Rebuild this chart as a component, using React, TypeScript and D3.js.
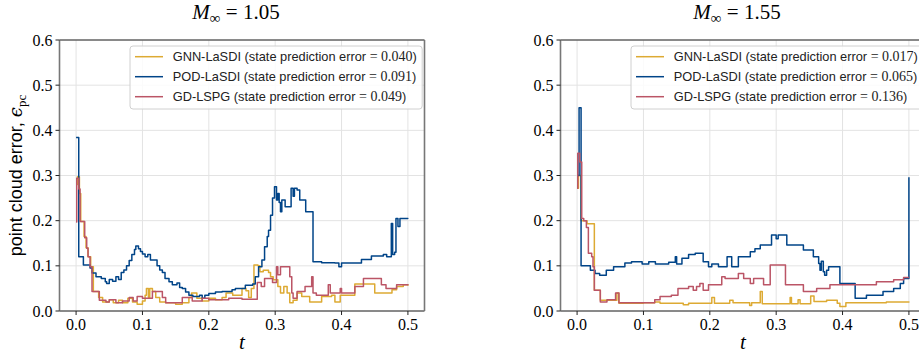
import React, { useEffect, useRef } from "react";
import * as d3 from "d3";

// axis ticks
const timeTicks = [0, 0.1, 0.2, 0.3, 0.4, 0.5];
const errorTicks = [0, 0.1, 0.2, 0.3, 0.4, 0.5, 0.6];

const machNumbers = ["1.05", "1.55"];
const methods = ["GNN-LaSDI", "POD-LaSDI", "GD-LSPG"];
const stateErrorsLow = ["0.040", "0.091", "0.049"];
const stateErrorsHigh = ["0.017", "0.065", "0.136"];
const colors = ["#DDAA33", "#004488", "#BB5566"];

// [t, error] pairs (step curves)
const gnnLow = [
  [0, 0.28], [0.002, 0.297], [0.005, 0.26], [0.007, 0.198], [0.012, 0.165], [0.015, 0.14],
  [0.018, 0.12], [0.022, 0.098], [0.026, 0.043], [0.034, 0.03], [0.04, 0.02], [0.05, 0.025],
  [0.056, 0.018], [0.064, 0.024], [0.07, 0.018], [0.078, 0.028], [0.085, 0.02], [0.092, 0.015],
  [0.1, 0.022], [0.104, 0.035], [0.106, 0.05], [0.109, 0.03], [0.111, 0.05], [0.115, 0.043],
  [0.12, 0.03], [0.126, 0.02], [0.135, 0.018], [0.15, 0.015], [0.16, 0.018], [0.17, 0.03],
  [0.174, 0.04], [0.182, 0.028], [0.19, 0.022], [0.2, 0.028], [0.21, 0.025], [0.22, 0.03],
  [0.226, 0.04], [0.236, 0.035], [0.25, 0.05], [0.256, 0.045], [0.26, 0.03], [0.264, 0.05],
  [0.268, 0.102], [0.274, 0.1], [0.277, 0.087], [0.282, 0.09], [0.29, 0.085], [0.293, 0.076],
  [0.297, 0.069], [0.304, 0.054], [0.308, 0.04], [0.313, 0.054], [0.318, 0.04], [0.322, 0.018],
  [0.327, 0.024], [0.333, 0.04], [0.34, 0.032], [0.352, 0.02], [0.37, 0.032], [0.385, 0.035],
  [0.39, 0.02], [0.398, 0.035], [0.42, 0.06], [0.45, 0.04], [0.476, 0.047], [0.483, 0.054],
  [0.493, 0.058], [0.5, 0.056],
];
const podLow = [
  [0, 0.384], [0.004, 0.12], [0.011, 0.102], [0.021, 0.095], [0.024, 0.084], [0.03, 0.076],
  [0.038, 0.072], [0.044, 0.065], [0.046, 0.061], [0.05, 0.07], [0.055, 0.066], [0.06, 0.076],
  [0.064, 0.07], [0.068, 0.085], [0.072, 0.091], [0.076, 0.1], [0.08, 0.112], [0.084, 0.125],
  [0.088, 0.136], [0.09, 0.144], [0.094, 0.138], [0.097, 0.132], [0.1, 0.126], [0.104, 0.12],
  [0.108, 0.125], [0.112, 0.113], [0.118, 0.113], [0.122, 0.1], [0.126, 0.091], [0.13, 0.085],
  [0.134, 0.072], [0.14, 0.065], [0.145, 0.058], [0.152, 0.062], [0.156, 0.052], [0.16, 0.05],
  [0.165, 0.042], [0.17, 0.035], [0.176, 0.032], [0.186, 0.035], [0.19, 0.028], [0.194, 0.035],
  [0.2, 0.039], [0.21, 0.042], [0.22, 0.043], [0.235, 0.047], [0.24, 0.05], [0.255, 0.057],
  [0.266, 0.06], [0.27, 0.076], [0.275, 0.098], [0.28, 0.113], [0.284, 0.142], [0.288, 0.165],
  [0.29, 0.179], [0.293, 0.212], [0.296, 0.25], [0.299, 0.275], [0.302, 0.246], [0.304, 0.26],
  [0.306, 0.24], [0.308, 0.22], [0.31, 0.246], [0.315, 0.231], [0.322, 0.231], [0.324, 0.272],
  [0.327, 0.254], [0.329, 0.272], [0.333, 0.268], [0.337, 0.246], [0.346, 0.22], [0.357, 0.109],
  [0.37, 0.107], [0.39, 0.106], [0.396, 0.098], [0.4, 0.106], [0.43, 0.114], [0.445, 0.122],
  [0.463, 0.125], [0.468, 0.12], [0.475, 0.194], [0.477, 0.125], [0.48, 0.13], [0.482, 0.205],
  [0.485, 0.187], [0.488, 0.205], [0.5, 0.204],
];
const lspgLow = [
  [0, 0.197], [0.001, 0.294], [0.004, 0.27], [0.006, 0.198], [0.013, 0.162], [0.016, 0.139],
  [0.018, 0.12], [0.021, 0.098], [0.024, 0.043], [0.035, 0.024], [0.045, 0.02], [0.05, 0.025],
  [0.06, 0.018], [0.07, 0.022], [0.08, 0.03], [0.086, 0.022], [0.092, 0.032], [0.1, 0.028],
  [0.115, 0.043], [0.13, 0.03], [0.135, 0.018], [0.16, 0.03], [0.175, 0.022], [0.19, 0.028],
  [0.2, 0.025], [0.23, 0.028], [0.25, 0.026], [0.273, 0.063], [0.279, 0.054], [0.284, 0.072],
  [0.296, 0.063], [0.302, 0.098], [0.304, 0.08], [0.308, 0.098], [0.322, 0.076], [0.325, 0.04],
  [0.327, 0.028], [0.333, 0.043], [0.345, 0.054], [0.355, 0.076], [0.357, 0.04], [0.362, 0.035],
  [0.38, 0.058], [0.383, 0.04], [0.398, 0.05], [0.4, 0.04], [0.42, 0.054], [0.433, 0.072],
  [0.46, 0.058], [0.467, 0.05], [0.483, 0.058], [0.5, 0.057],
];

const gnnHigh = [
  [0, 0.272], [0.002, 0.3], [0.006, 0.2], [0.015, 0.193], [0.026, 0.046], [0.035, 0.024],
  [0.06, 0.04], [0.063, 0.017], [0.1, 0.018], [0.117, 0.02], [0.125, 0.017], [0.16, 0.014],
  [0.168, 0.017], [0.2, 0.017], [0.203, 0.03], [0.207, 0.017], [0.23, 0.024], [0.235, 0.018],
  [0.26, 0.012], [0.263, 0.018], [0.276, 0.043], [0.279, 0.016], [0.321, 0.03], [0.323, 0.016],
  [0.333, 0.025], [0.336, 0.016], [0.352, 0.033], [0.357, 0.021], [0.376, 0.024], [0.392, 0.017],
  [0.396, 0.01], [0.405, 0.018], [0.466, 0.02], [0.5, 0.021],
];
const podHigh = [
  [0, 0.3], [0.003, 0.45], [0.006, 0.1], [0.02, 0.09], [0.027, 0.083], [0.034, 0.079],
  [0.044, 0.09], [0.055, 0.098], [0.072, 0.106], [0.082, 0.109], [0.098, 0.104], [0.108, 0.109],
  [0.118, 0.104], [0.138, 0.108], [0.148, 0.12], [0.15, 0.104], [0.158, 0.117], [0.168, 0.125],
  [0.178, 0.128], [0.19, 0.109], [0.198, 0.098], [0.203, 0.104], [0.213, 0.098], [0.226, 0.12],
  [0.233, 0.098], [0.243, 0.12], [0.261, 0.131], [0.268, 0.138], [0.276, 0.146], [0.293, 0.168],
  [0.3, 0.16], [0.303, 0.168], [0.316, 0.146], [0.341, 0.135], [0.356, 0.12], [0.364, 0.105],
  [0.366, 0.09], [0.368, 0.11], [0.371, 0.087], [0.373, 0.079], [0.376, 0.09], [0.379, 0.098],
  [0.396, 0.061], [0.419, 0.028], [0.436, 0.035], [0.461, 0.043], [0.477, 0.05], [0.487, 0.061],
  [0.492, 0.072], [0.5, 0.296],
];
const lspgHigh = [
  [0, 0.272], [0.001, 0.349], [0.004, 0.33], [0.007, 0.205], [0.01, 0.2], [0.014, 0.185],
  [0.017, 0.128], [0.022, 0.12], [0.024, 0.098], [0.026, 0.046], [0.035, 0.02], [0.045, 0.025],
  [0.058, 0.04], [0.063, 0.018], [0.117, 0.025], [0.125, 0.032], [0.142, 0.035], [0.152, 0.05],
  [0.168, 0.054], [0.175, 0.046], [0.18, 0.054], [0.185, 0.061], [0.19, 0.046], [0.198, 0.058],
  [0.218, 0.076], [0.223, 0.072], [0.243, 0.083], [0.251, 0.072], [0.261, 0.061], [0.266, 0.072],
  [0.281, 0.058], [0.291, 0.102], [0.314, 0.058], [0.341, 0.043], [0.361, 0.05], [0.381, 0.058],
  [0.451, 0.065], [0.477, 0.069], [0.492, 0.074], [0.5, 0.074],
];

const App = () => {
  const ref = useRef(null);

  useEffect(() => {
    const root = d3.select(ref.current);
    root.selectAll("*").remove();

    const panels = [
      { left: 59.5, mach: machNumbers[0], errs: stateErrorsLow, series: [gnnLow, podLow, lspgLow], ylabel: true },
      { left: 560.5, mach: machNumbers[1], errs: stateErrorsHigh, series: [gnnHigh, podHigh, lspgHigh], ylabel: false },
    ];
    const top = 40, bottom = 311, plotW = 365;
    const serif = "'Liberation Serif', 'DejaVu Serif', serif";
    const sans = "'Liberation Sans', Arial, sans-serif";

    panels.forEach((p, pi) => {
      const x = d3.scaleLinear().domain([-0.025, 0.525]).range([p.left, p.left + plotW]);
      const y = d3.scaleLinear().domain([0, 0.6]).range([bottom, top]);
      const g = root.append("g");

      // grid
      g.selectAll("line.gx").data(timeTicks).enter().append("line")
        .attr("x1", d => x(d)).attr("x2", d => x(d)).attr("y1", top).attr("y2", bottom)
        .attr("stroke", "#e3e3e3").attr("stroke-width", 1);
      g.selectAll("line.gy").data(errorTicks).enter().append("line")
        .attr("x1", p.left).attr("x2", p.left + plotW).attr("y1", d => y(d)).attr("y2", d => y(d))
        .attr("stroke", "#e3e3e3").attr("stroke-width", 1);

      // curves
      const clipId = `clip${pi}`;
      g.append("clipPath").attr("id", clipId).append("rect")
        .attr("x", p.left).attr("y", top).attr("width", plotW).attr("height", bottom - top);
      const line = d3.line().x(d => x(d[0])).y(d => y(d[1])).curve(d3.curveStepAfter);
      p.series.forEach((s, i) => {
        g.append("path").datum(s).attr("d", line)
          .attr("fill", "none").attr("stroke", colors[i]).attr("stroke-width", 1.5)
          .attr("stroke-linejoin", "round").attr("clip-path", `url(#${clipId})`);
      });

      // spines
      g.append("line").attr("x1", p.left).attr("x2", p.left + plotW).attr("y1", top).attr("y2", top)
        .attr("stroke", "#222").attr("stroke-width", 1);
      g.append("line").attr("x1", p.left).attr("x2", p.left + plotW).attr("y1", bottom).attr("y2", bottom)
        .attr("stroke", "#222").attr("stroke-width", 1);
      [p.left, p.left + plotW].forEach(sx => {
        g.append("line").attr("x1", sx).attr("x2", sx).attr("y1", top).attr("y2", bottom)
          .attr("stroke", "#777").attr("stroke-width", 1.6);
      });

      // ticks + labels
      timeTicks.forEach(t => {
        g.append("line").attr("x1", x(t)).attr("x2", x(t)).attr("y1", bottom).attr("y2", bottom + 4)
          .attr("stroke", "#222");
        g.append("text").attr("x", x(t)).attr("y", bottom + 19).attr("text-anchor", "middle")
          .style("font-family", serif).style("font-size", "16px").text(t.toFixed(1));
      });
      errorTicks.forEach(v => {
        g.append("line").attr("x1", p.left - 4).attr("x2", p.left).attr("y1", y(v)).attr("y2", y(v))
          .attr("stroke", "#222");
        g.append("text").attr("x", p.left - 7).attr("y", y(v) + 5.5).attr("text-anchor", "end")
          .style("font-family", serif).style("font-size", "16px").text(v.toFixed(1));
      });

      // title
      const cx = p.left + plotW / 2 - 6;
      const title = g.append("text").attr("x", cx).attr("y", 19).attr("text-anchor", "middle")
        .style("font-family", serif).style("font-size", "21px");
      title.append("tspan").style("font-style", "italic").text("M");
      title.append("tspan").attr("dy", 4).style("font-size", "15px").text("\u221E");
      title.append("tspan").attr("dy", -4).text(` = ${p.mach}`);

      // x label
      g.append("text").attr("x", p.left + plotW / 2).attr("y", 349).attr("text-anchor", "middle")
        .style("font-family", serif).style("font-size", "21px").style("font-style", "italic").text("t");

      // legend
      const lx = p.left + 70.5, ly = 46;
      const leg = g.append("g");
      const box = leg.append("rect").attr("x", lx).attr("y", ly).attr("height", 63).attr("rx", 3)
        .attr("fill", "white").attr("fill-opacity", 0.85).attr("stroke", "#d0d0d0");
      let maxLen = 0;
      methods.forEach((m, i) => {
        const ry = ly + 10.7 + i * 20;
        leg.append("line").attr("x1", lx + 5).attr("x2", lx + 33).attr("y1", ry).attr("y2", ry)
          .attr("stroke", colors[i]).attr("stroke-width", 1.5);
        const tx = leg.append("text").attr("x", lx + 42.7).attr("y", ry + 4.5)
          .style("font-family", sans).style("font-size", "12.8px").attr("fill", "#222");
        tx.append("tspan").text(`${m} (state prediction error `);
        tx.append("tspan").style("font-family", serif).style("font-size", "14px").text(`= ${p.errs[i]}`);
        tx.append("tspan").text(")");
        maxLen = Math.max(maxLen, tx.node().getComputedTextLength());
      });
      box.attr("width", maxLen + 48);

      // y label
      if (p.ylabel) {
        const yl = g.append("text").attr("transform", `translate(22, ${(top + bottom) / 2}) rotate(-90)`)
          .attr("text-anchor", "middle").style("font-family", sans).style("font-size", "18px");
        yl.append("tspan").text("point cloud error, ");
        yl.append("tspan").style("font-family", "'DejaVu Serif', serif").style("font-style", "italic").text("\u03F5");
        yl.append("tspan").attr("dy", 4).style("font-family", serif).style("font-size", "13px").text("pc");
      }
    });
  }, []);

  return (
    <svg ref={ref} width={919} height={356}
      style={{ position: "absolute", left: 0, top: 0, background: "white" }} />
  );
};

export default App;
